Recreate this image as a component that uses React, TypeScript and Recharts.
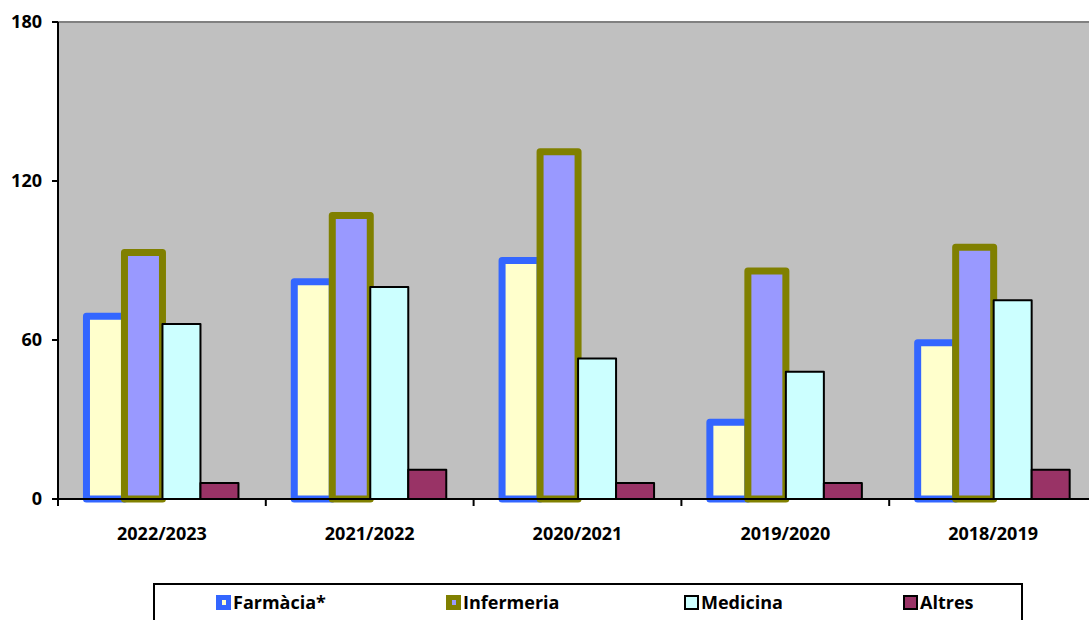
import React from 'react';
import { BarChart, Bar, XAxis, YAxis, CartesianGrid, ReferenceLine } from 'recharts';

const categories = ['2022/2023', '2021/2022', '2020/2021', '2019/2020', '2018/2019'];
const farmacia = [69, 82, 90, 29, 59];
const infermeria = [93, 107, 131, 86, 95];
const medicina = [66, 80, 53, 48, 75];
const altres = [6, 11, 6, 6, 11];
const yTicks = [0, 60, 120, 180];
const seriesNames = ['Farmàcia*', 'Infermeria', 'Medicina', 'Altres'];

const data = categories.map((name, i) => ({
  name,
  farmacia: farmacia[i],
  infermeria: infermeria[i],
  medicina: medicina[i],
  altres: altres[i],
}));

const CHART_W = 1110;
const CHART_H = 560;
const MARGIN = { top: 22, right: 13, bottom: 0, left: 0 };
const Y_W = 58;
const X_H = 61;
const PLOT_BOTTOM = CHART_H - MARGIN.bottom - X_H;
const BAND = (CHART_W - MARGIN.right - MARGIN.left - Y_W) / categories.length;
const FONT = "'Open Sans', sans-serif";

const seriesStyles = [
  { key: 'farmacia', fill: '#FFFFCC', stroke: '#3366FF', width: 7 },
  { key: 'infermeria', fill: '#9999FF', stroke: '#808000', width: 7 },
  { key: 'medicina', fill: '#CCFFFF', stroke: '#000000', width: 2 },
  { key: 'altres', fill: '#993366', stroke: '#000000', width: 2 },
];

const legendTextX = [233, 463, 701, 920];

const XTick = (props: any) => {
  const { x, payload } = props;
  return (
    <g>
      <line x1={x - BAND / 2} x2={x - BAND / 2} y1={PLOT_BOTTOM} y2={PLOT_BOTTOM + 7} stroke="#000" strokeWidth={2} />
      <text x={x} y={PLOT_BOTTOM + 41} textAnchor="middle" fontFamily={FONT} fontWeight={700} fontSize={18} fill="#000">
        {payload.value}
      </text>
    </g>
  );
};

const Marker = ({ i }: { i: number }) => {
  const s = seriesStyles[i];
  const thick = s.width > 3;
  return (
    <div
      style={{
        position: 'absolute',
        left: legendTextX[i] - 154 - 18,
        top: 10,
        width: 15,
        height: 15,
        boxSizing: 'border-box',
        background: thick ? s.stroke : s.fill,
        border: thick ? 'none' : `2px solid ${s.stroke}`,
      }}
    >
      {thick && (
        <div style={{ position: 'absolute', left: 6, top: 5, width: 4, height: 5, background: s.fill }} />
      )}
    </div>
  );
};

export default function App() {
  return (
    <div
      style={{
        position: 'fixed',
        left: 0,
        top: 0,
        width: 1089,
        height: 620,
        overflow: 'hidden',
        background: '#fff',
        fontFamily: FONT,
      }}
    >
      <BarChart
        width={CHART_W}
        height={CHART_H}
        data={data}
        margin={MARGIN}
        barCategoryGap="13.7%"
        barGap={0}
      >
        <CartesianGrid horizontal={false} vertical={false} fill="#C0C0C0" />
        <ReferenceLine y={180} stroke="#808080" strokeWidth={2} />
        {seriesStyles.map((s, i) => (
          <Bar
            key={s.key}
            dataKey={s.key}
            name={seriesNames[i]}
            fill={s.fill}
            stroke={s.stroke}
            strokeWidth={s.width}
            strokeLinejoin="round"
            isAnimationActive={false}
          />
        ))}
        <XAxis
          dataKey="name"
          height={X_H}
          axisLine={{ stroke: '#000', strokeWidth: 2 }}
          tickLine={false}
          interval={0}
          tick={<XTick />}
        />
        <YAxis
          width={Y_W}
          domain={[0, 180]}
          ticks={yTicks}
          interval={0}
          axisLine={{ stroke: '#000', strokeWidth: 2 }}
          tickLine={{ stroke: '#000', strokeWidth: 2 }}
          tickSize={6}
          tickMargin={10}
          tick={{ fontFamily: FONT, fontWeight: 700, fontSize: 18, fill: '#000' }}
        />
      </BarChart>
      <div
        style={{
          position: 'absolute',
          left: 153,
          top: 583,
          width: 870,
          height: 60,
          boxSizing: 'border-box',
          border: '2px solid #000',
          background: '#fff',
        }}
      >
        {seriesNames.map((n, i) => (
          <React.Fragment key={n}>
            <Marker i={i} />
            <div
              style={{
                position: 'absolute',
                left: legendTextX[i] - 155,
                top: 5,
                fontFamily: FONT,
                fontWeight: 700,
                fontSize: 18,
                lineHeight: '24px',
                color: '#000',
                whiteSpace: 'nowrap',
              }}
            >
              {n}
            </div>
          </React.Fragment>
        ))}
      </div>
    </div>
  );
}
